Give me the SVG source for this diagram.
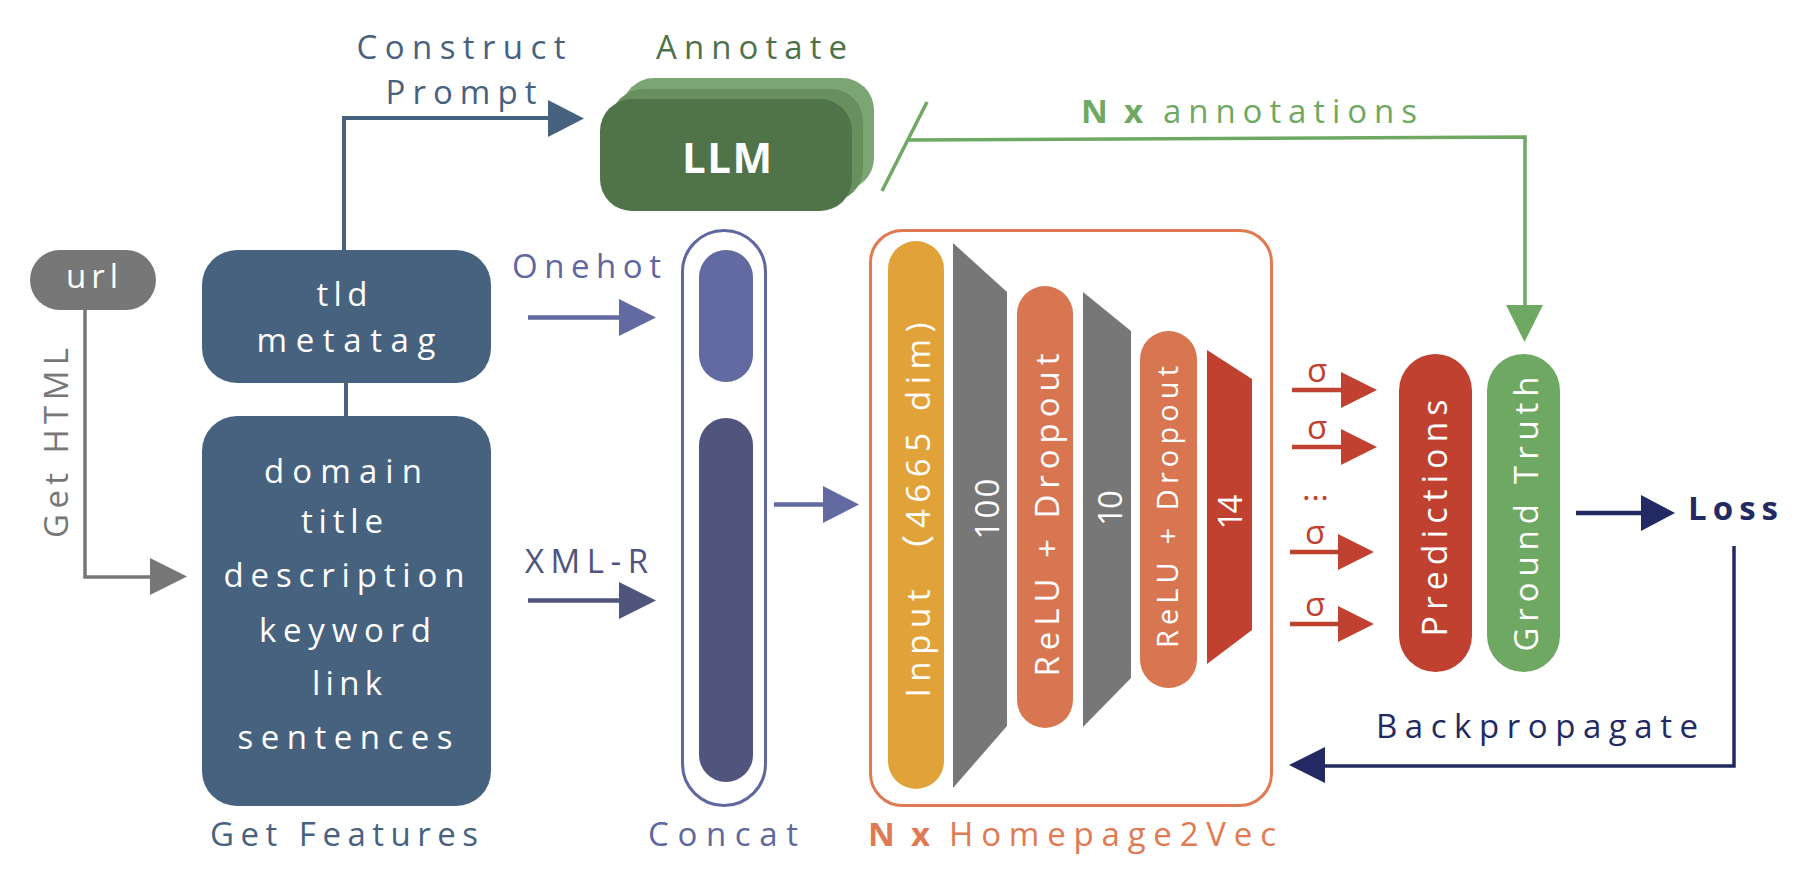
<svg xmlns="http://www.w3.org/2000/svg" width="1800" height="879" viewBox="0 0 1800 879">
<style>
text{font-family:"Open Sans","Liberation Sans","Noto Sans CJK SC",sans-serif;font-size:33px;font-weight:500;}
.w{fill:#ffffff;}
.mid{text-anchor:middle;}
.b{font-weight:bold;}
.blue{fill:#46627f;}
.purple{fill:#5f67a0;}
.dpurple{fill:#4f557d;}
.gray{fill:#777777;}
.orange{fill:#e07a53;}
.red{fill:#c0412f;}
.navy{fill:#232a63;}
.lgreen{fill:#6fa862;}
.dgreen{fill:#4f7249;}
.ln{fill:none;}
</style>
<rect width="1800" height="879" fill="#ffffff"/>

<!-- connectors -->
<g id="connectors">
  <polyline class="ln" points="344,250 344,118 550,118" stroke="#46627f" stroke-width="4"/>
  <polygon points="548,100 584,118.5 548,137" fill="#46627f"/>
  <polyline class="ln" points="85,310 85,577 152,577" stroke="#777777" stroke-width="3.5"/>
  <polygon points="150,558 187,576.5 150,595" fill="#777777"/>
  <line x1="346" y1="383" x2="346" y2="418" stroke="#46627f" stroke-width="4"/>
  <line x1="528" y1="317.5" x2="621" y2="317.5" stroke="#626aa1" stroke-width="4.5"/>
  <polygon points="619,299 656,317.5 619,336" fill="#626aa1"/>
  <line x1="528" y1="600.5" x2="621" y2="600.5" stroke="#4f557d" stroke-width="4.5"/>
  <polygon points="619,582 656,600.5 619,619" fill="#4f557d"/>
  <line x1="774" y1="504.5" x2="825" y2="504.5" stroke="#626aa1" stroke-width="4.5"/>
  <polygon points="823,486 859,504.5 823,523" fill="#626aa1"/>
  <line x1="927" y1="102" x2="882" y2="191" stroke="#6fa862" stroke-width="3.5"/>
  <polyline class="ln" points="909,140 1525,137 1525,307" stroke="#6fa862" stroke-width="3.5"/>
  <polygon points="1506,305 1543,305 1524.5,342" fill="#6fa862"/>
  <g stroke="#c0412f" stroke-width="4.5">
    <line x1="1292" y1="390" x2="1343" y2="390"/>
    <line x1="1292" y1="447" x2="1343" y2="447"/>
    <line x1="1290" y1="552" x2="1341" y2="552"/>
    <line x1="1290" y1="624" x2="1341" y2="624"/>
  </g>
  <g fill="#c0412f">
    <polygon points="1341,372 1377,390 1341,408"/>
    <polygon points="1341,429 1377,447 1341,465"/>
    <polygon points="1338,534 1374,552 1338,570"/>
    <polygon points="1338,606 1374,624 1338,642"/>
  </g>
  <line x1="1576" y1="513" x2="1643" y2="513" stroke="#232a63" stroke-width="4.5"/>
  <polygon points="1641,495 1675,513 1641,531" fill="#232a63"/>
  <polyline class="ln" points="1734,546 1734,766 1323,766" stroke="#232a63" stroke-width="3.5"/>
  <polygon points="1325,747 1289,765 1325,783" fill="#232a63"/>
</g>

<!-- labels on connectors -->
<g id="labels">
  <text class="blue mid" x="461" y="59" textLength="209" lengthAdjust="spacing">Construct</text>
  <text class="blue mid" x="461" y="104" textLength="151" lengthAdjust="spacing">Prompt</text>
  <text class="dgreen" x="656" y="59" textLength="191" lengthAdjust="spacing">Annotate</text>
  <text class="lgreen b" x="1081" y="123" textLength="62" lengthAdjust="spacing">N x</text>
  <text class="lgreen" x="1163" y="123" textLength="254" lengthAdjust="spacing">annotations</text>
  <text class="gray mid" transform="translate(68,443) rotate(-90)" textLength="190" lengthAdjust="spacing">Get HTML</text>
  <text class="purple" x="512" y="278" textLength="149" lengthAdjust="spacing">Onehot</text>
  <text class="dpurple" x="525" y="573" textLength="123" lengthAdjust="spacing">XML-R</text>
  <text class="red mid" x="1317" y="382">σ</text>
  <text class="red mid" x="1317" y="439">σ</text>
  <text class="red mid" x="1315" y="544">σ</text>
  <text class="red mid" x="1315" y="616">σ</text>
  <text class="red" x="1302" y="500" textLength="27" lengthAdjust="spacing">...</text>
  <text class="navy b" x="1688" y="520" textLength="90" lengthAdjust="spacing">Loss</text>
  <text class="navy" x="1376" y="738" textLength="322" lengthAdjust="spacing">Backpropagate</text>
</g>

<!-- url -->
<g id="url">
  <rect x="30" y="250" width="126" height="60" rx="30" fill="#777777"/>
  <text class="w mid" x="92" y="288" textLength="52" lengthAdjust="spacing">url</text>
</g>

<!-- LLM -->
<g id="llm">
  <rect x="622" y="78" width="252" height="112" rx="32" fill="#7ba572"/>
  <rect x="611" y="89" width="252" height="112" rx="32" fill="#68905f"/>
  <rect x="600" y="99" width="252" height="112" rx="32" fill="#507349"/>
  <text class="w b mid" x="727" y="173" style="font-size:42px" textLength="90" lengthAdjust="spacing">LLM</text>
</g>

<!-- tld metatag -->
<g id="tld">
  <rect x="202" y="250" width="289" height="133" rx="35" fill="#46627f"/>
  <text class="w mid" x="342" y="306" textLength="51" lengthAdjust="spacing">tld</text>
  <text class="w mid" x="346" y="352" textLength="179" lengthAdjust="spacing">metatag</text>
</g>

<!-- features -->
<g id="features">
  <rect x="202" y="416" width="289" height="390" rx="35" fill="#46627f"/>
  <text class="w mid" x="343" y="483" textLength="158" lengthAdjust="spacing">domain</text>
  <text class="w mid" x="342" y="533" textLength="82" lengthAdjust="spacing">title</text>
  <text class="w mid" x="344" y="587" textLength="241" lengthAdjust="spacing">description</text>
  <text class="w mid" x="345" y="642" textLength="172" lengthAdjust="spacing">keyword</text>
  <text class="w mid" x="347" y="695" textLength="70" lengthAdjust="spacing">link</text>
  <text class="w mid" x="345" y="749" textLength="215" lengthAdjust="spacing">sentences</text>
  <text class="blue mid" x="344" y="846" textLength="268" lengthAdjust="spacing">Get Features</text>
</g>

<!-- concat -->
<g id="concat">
  <rect x="682.5" y="230.5" width="83" height="575" rx="41.5" fill="none" stroke="#5f67a0" stroke-width="3"/>
  <rect x="699" y="250" width="54" height="132" rx="27" fill="#626aa1"/>
  <rect x="699" y="418" width="54" height="364" rx="27" fill="#4f557d"/>
  <text class="purple mid" x="723" y="846" textLength="150" lengthAdjust="spacing">Concat</text>
</g>

<!-- homepage2vec -->
<g id="homepage2vec">
  <rect x="870.5" y="230.5" width="401" height="575" rx="32" fill="none" stroke="#e07a53" stroke-width="3"/>
  <rect x="888" y="241" width="56" height="548" rx="28" fill="#e2a23a"/>
  <text class="w mid" transform="translate(930,510) rotate(-90)" textLength="375" lengthAdjust="spacing">Input （4665 dim)</text>
  <polygon points="953,243 1007,292 1007,726 953,788" fill="#777777"/>
  <text class="w mid" transform="translate(999,509) rotate(-90)" textLength="61" lengthAdjust="spacing">100</text>
  <rect x="1017" y="286" width="56" height="442" rx="28" fill="#d97652"/>
  <text class="w mid" transform="translate(1059,515) rotate(-90)" textLength="323" lengthAdjust="spacing">ReLU + Dropout</text>
  <polygon points="1083,292 1131,331 1131,678 1083,727" fill="#777777"/>
  <text class="w mid" transform="translate(1122,508) rotate(-90)" textLength="36" lengthAdjust="spacing">10</text>
  <rect x="1140" y="331" width="57" height="357" rx="28.5" fill="#d97652"/>
  <text class="w mid" transform="translate(1178,507) rotate(-90)" style="font-size:29px" textLength="282" lengthAdjust="spacing">ReLU + Dropout</text>
  <polygon points="1207,350 1252,379 1252,630 1207,664" fill="#c0412f"/>
  <text class="w mid" transform="translate(1242,512) rotate(-90)" textLength="35" lengthAdjust="spacing">14</text>
  <text class="orange b" x="868" y="846" textLength="62" lengthAdjust="spacing">N x</text>
  <text class="orange" x="949" y="846" textLength="327" lengthAdjust="spacing">Homepage2Vec</text>
</g>

<!-- predictions -->
<g id="predictions">
  <rect x="1399" y="354" width="73" height="318" rx="36.5" fill="#c0412f"/>
  <text class="w mid" transform="translate(1447,518) rotate(-90)" style="font-size:34px" textLength="237" lengthAdjust="spacing">Predictions</text>
</g>

<!-- ground truth -->
<g id="groundtruth">
  <rect x="1487" y="354" width="73" height="318" rx="36.5" fill="#6fa862"/>
  <text class="w mid" transform="translate(1538,514) rotate(-90)" textLength="275" lengthAdjust="spacing">Ground Truth</text>
</g>
</svg>
